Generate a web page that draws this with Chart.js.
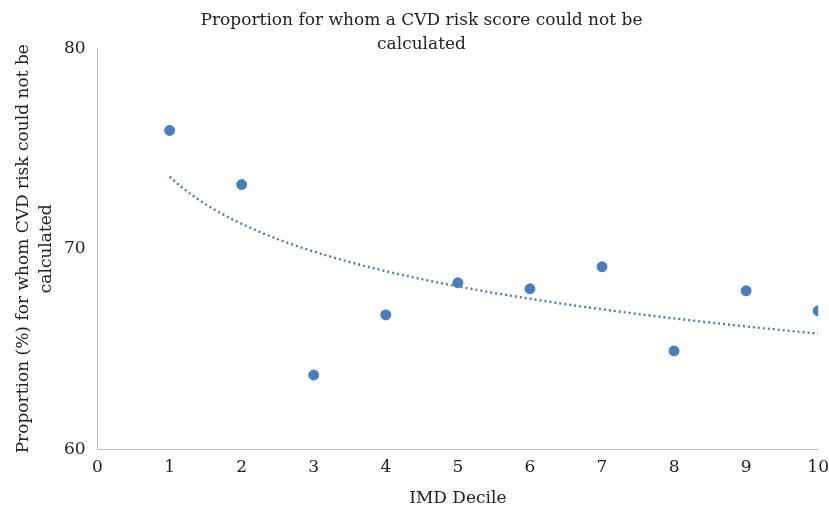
<!DOCTYPE html>
<html>
<head>
<meta charset="utf-8">
<script src="https://cdn.jsdelivr.net/npm/chart.js@4"></script>
<style>
  html, body { margin: 0; padding: 0; background: #fff; }
  #wrap { width: 829px; height: 513px; }
</style>
</head>
<body>
<div id="wrap"><canvas id="cvdChart" width="829" height="513"></canvas></div>
<script>
// IMD decile vs proportion (%) with no CVD risk score
var deciles = [1, 2, 3, 4, 5, 6, 7, 8, 9, 10];
var proportions = [75.9, 73.2, 63.7, 66.7, 68.3, 68.0, 69.1, 64.9, 67.9, 66.9];
var xTicks = [0, 1, 2, 3, 4, 5, 6, 7, 8, 9, 10];
var yTicks = [60, 70, 80];

var blue = '#4a7ebb';
var fontFamily = '"DejaVu Serif", serif';

// logarithmic trendline (least squares on ln x), like Excel's
function logFit(xs, ys) {
    var n = xs.length, sl = 0, sy = 0, sll = 0, sly = 0;
    for (var i = 0; i < n; i++) {
        var l = Math.log(xs[i]);
        sl += l; sy += ys[i]; sll += l * l; sly += l * ys[i];
    }
    var b = (n * sly - sl * sy) / (n * sll - sl * sl);
    var a = (sy - b * sl) / n;
    return { a: a, b: b };
}
var fit = logFit(deciles, proportions);
var trend = [];
for (var x = 1; x <= 10.0001; x += 0.1) {
    trend.push({ x: x, y: fit.a + fit.b * Math.log(x) });
}

var points = deciles.map(function (d, i) { return { x: d, y: proportions[i] }; });

var ctx = document.getElementById('cvdChart').getContext('2d');
var cvdChart = new Chart(ctx, {
    type: 'scatter',
    data: {
        datasets: [{
            label: 'Proportion',
            data: points,
            backgroundColor: blue,
            borderColor: blue,
            pointRadius: 5,
            pointHoverRadius: 5
        }, {
            type: 'line',
            label: 'Log trend',
            data: trend,
            borderColor: blue,
            borderWidth: 2.4,
            borderDash: [2, 3],
            pointRadius: 0,
            fill: false,
            tension: 0
        }]
    },
    options: {
        responsive: false,
        animation: false,
        layout: { padding: { left: 12, right: -2, top: 4, bottom: 4 } },
        plugins: {
            legend: { display: false },
            tooltip: { enabled: false },
            title: {
                display: true,
                text: ['Proportion for whom a CVD risk score could not be', 'calculated'],
                color: '#222',
                font: { family: fontFamily, size: 17, weight: 'normal', lineHeight: 1.45 },
                padding: { top: 4, bottom: -9 }
            }
        },
        scales: {
            x: {
                type: 'linear',
                min: 0,
                max: 10,
                afterBuildTicks: function (axis) { axis.ticks = xTicks.map(function (v) { return { value: v }; }); },
                grid: { display: false },
                border: { display: true, color: '#bfbfbf', width: 1 },
                ticks: { color: '#222', font: { family: fontFamily, size: 17 }, padding: 0 },
                title: {
                    display: true,
                    text: 'IMD Decile',
                    color: '#222',
                    font: { family: fontFamily, size: 17 },
                    padding: { top: 11, bottom: 0 }
                }
            },
            y: {
                min: 60,
                max: 80,
                afterBuildTicks: function (axis) { axis.ticks = yTicks.map(function (v) { return { value: v }; }); },
                grid: { display: false },
                border: { display: true, color: '#bfbfbf', width: 1 },
                ticks: { color: '#222', font: { family: fontFamily, size: 17 }, padding: 4 },
                title: {
                    display: true,
                    text: ['Proportion (%) for whom CVD risk could not be', 'calculated'],
                    color: '#222',
                    font: { family: fontFamily, size: 17, lineHeight: 1.35 },
                    padding: { top: 0, bottom: 2 }
                }
            }
        }
    }
});
</script>
</body>
</html>
